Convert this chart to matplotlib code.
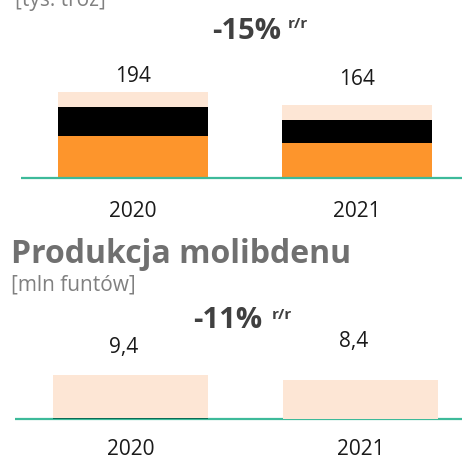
import matplotlib.pyplot as plt
from matplotlib import transforms

plt.rcParams['font.family'] = ['Open Sans', 'DejaVu Sans']

# --- data ---
years = ['2020', '2021']
# upper chart [tys. troz], stacked from the bottom
au_orange = [95, 79]
au_black = [65, 52]
au_light = [34, 33]
au_totals = ['194', '164']
au_change = '-15%'

# lower chart: molybdenum [mln funtów]
mo_dark = [0.35, 0.0]
mo_light = [9.05, 8.4]
mo_totals = ['9,4', '8,4']
mo_change = '-11%'

ORANGE = '#fd952c'
LIGHT = '#fde6d5'
BLACK = '#000000'
DARK = '#0b6b55'
TEAL = '#3dba9a'
W, H = 462, 459

fig = plt.figure(figsize=(W / 100, H / 100), dpi=100)


def fy(py):
    # pixel from top -> figure fraction
    return 1 - py / H


def make_axes(base_px, top_px, px_per_unit, x0, step):
    ax = fig.add_axes([0, fy(base_px), 1, (base_px - top_px) / H])
    ax.set_xlim(-x0 / step, (W - x0) / step)
    ax.set_ylim(0, (base_px - top_px) / px_per_unit)
    ax.axis('off')
    return ax


# upper chart
ax1 = make_axes(178, 0, 0.443, 133, 224)
x = [0, 1]
ax1.bar(x, au_orange, width=150 / 224, color=ORANGE)
ax1.bar(x, au_black, width=150 / 224, bottom=au_orange, color=BLACK)
bot = [a + b for a, b in zip(au_orange, au_black)]
ax1.bar(x, au_light, width=150 / 224, bottom=bot, color=LIGHT)
ax1.plot([(21 - 133) / 224, (W - 133) / 224], [0, 0], color=TEAL, lw=1.6,
         solid_capstyle='butt', clip_on=False)
tr1 = transforms.blended_transform_factory(ax1.transData, fig.transFigure)
for i, (lab, by) in enumerate(zip(au_totals, [82, 85])):
    ax1.text(i, fy(by), lab, transform=tr1, ha='center', va='baseline',
             fontsize=15, color='#1a1a1a')
for i, yr in enumerate(years):
    ax1.text(i, fy(217), yr, transform=tr1, ha='center', va='baseline',
             fontsize=15, color='#1a1a1a')

# lower chart
ax2 = make_axes(419, 300, 4.79, 130.5, 230)
ax2.bar(x, mo_dark, width=155 / 230, bottom=-0.2, color=DARK, zorder=2)
ax2.bar(x, mo_light, width=155 / 230, bottom=[d - 0.2 for d in mo_dark],
        color=LIGHT, zorder=2)
ax2.plot([(15 - 130.5) / 230, (W - 130.5) / 230], [0, 0], color=TEAL, lw=1.6,
         solid_capstyle='butt', clip_on=False, zorder=1)
tr2 = transforms.blended_transform_factory(ax2.transData, fig.transFigure)
for i, (lab, by) in enumerate(zip(mo_totals, [353, 347])):
    ax2.text(i - 0.03, fy(by), lab, transform=tr2, ha='center', va='baseline',
             fontsize=15, color='#1a1a1a')
for i, yr in enumerate(years):
    ax2.text(i, fy(455), yr, transform=tr2, ha='center', va='baseline',
             fontsize=15, color='#1a1a1a')

# titles and changes
fig.text(15 / W, fy(6), '[tys. troz]', fontsize=15, color='#808080', va='baseline')
fig.text(212 / W, fy(39), au_change, fontsize=21, fontweight='bold',
         color='#404040', va='baseline')
fig.text(288 / W, fy(28), 'r/r', fontsize=11, fontweight='bold',
         color='#404040', va='baseline')

fig.text(11 / W, fy(263), 'Produkcja molibdenu', fontsize=23, fontweight='bold',
         color='#707070', va='baseline')
fig.text(11 / W, fy(290), '[mln funtów]', fontsize=15, color='#808080', va='baseline')
fig.text(193 / W, fy(328), mo_change, fontsize=21, fontweight='bold',
         color='#404040', va='baseline')
fig.text(272 / W, fy(319), 'r/r', fontsize=11, fontweight='bold',
         color='#404040', va='baseline')

fig.savefig('out.png', dpi=100)
